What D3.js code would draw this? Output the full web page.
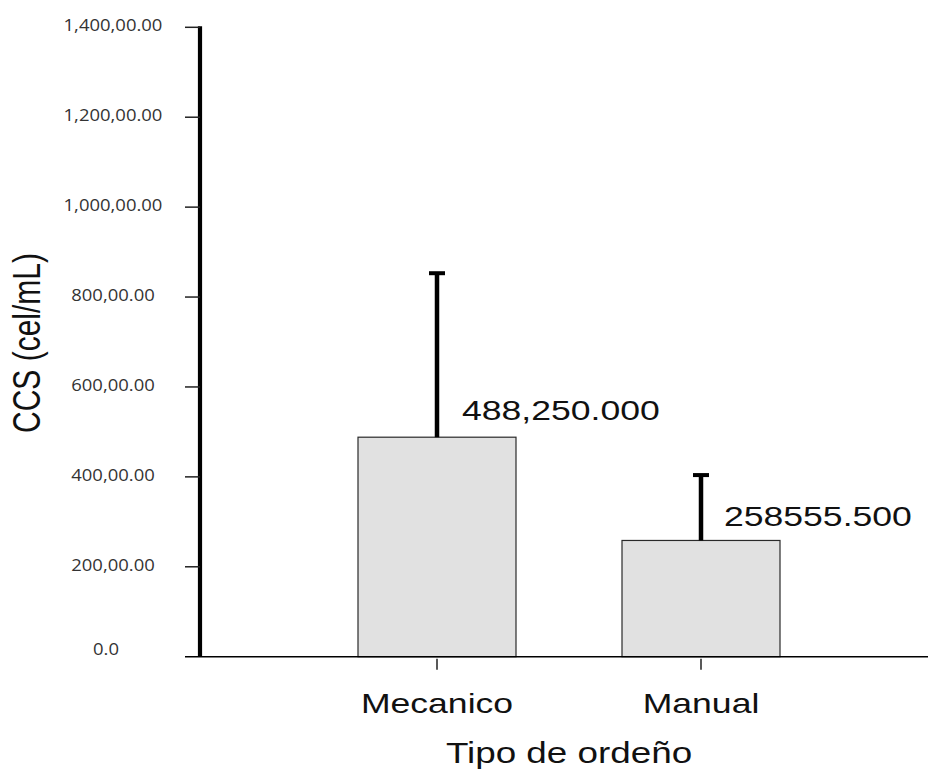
<!DOCTYPE html>
<html>
<head>
<meta charset="utf-8">
<script src="https://cdn.jsdelivr.net/npm/d3@7"></script>
<style>
  html, body { margin: 0; padding: 0; background: #ffffff; }
  svg { display: block; }
</style>
</head>
<body>
<svg id="chart" width="928" height="771"></svg>
<script>
// ---- data ----
const categories = ["Mecanico", "Manual"];
const means = [488250.0, 258555.5];
const errors = [364750, 145444];           // upper error-bar length (cel/mL)
const valueLabels = ["488,250.000", "258555.500"];
const yTicks = [0, 200000, 400000, 600000, 800000, 1000000, 1200000, 1400000];
const yTickLabels = ["0.0", "200,00.00", "400,00.00", "600,00.00", "800,00.00", "1,000,00.00", "1,200,00.00", "1,400,00.00"];
const xTitle = "Tipo de ordeño";
const yTitle = "CCS (cel/mL)";

// ---- layout ----
const svg = d3.select("#chart");
const SX = 1.27; // horizontal stretch of the original picture's text

const y = d3.scaleLinear().domain([0, 1400000]).range([656.7, 27.3]);
const x = d3.scalePoint().domain(categories).range([437, 701]).padding(0);
const barW = 158;
const cx = d => x(d);

// bars
svg.selectAll("rect.bar").data(categories).join("rect")
  .attr("class", "bar")
  .attr("x", d => cx(d) - barW / 2)
  .attr("width", barW)
  .attr("y", (d, i) => y(means[i]))
  .attr("height", (d, i) => y(0) - y(means[i]))
  .attr("fill", "#e1e1e1")
  .attr("stroke", "#2a2a2a")
  .attr("stroke-width", 1.2);

// error bars
svg.selectAll("line.err").data(categories).join("line")
  .attr("x1", cx).attr("x2", cx)
  .attr("y1", (d, i) => y(means[i]))
  .attr("y2", (d, i) => y(means[i] + errors[i]))
  .attr("stroke", "#000").attr("stroke-width", 4.5);
svg.selectAll("line.cap").data(categories).join("line")
  .attr("x1", d => cx(d) - 8).attr("x2", d => cx(d) + 8)
  .attr("y1", (d, i) => y(means[i] + errors[i]))
  .attr("y2", (d, i) => y(means[i] + errors[i]))
  .attr("stroke", "#000").attr("stroke-width", 4);

// value labels
svg.selectAll("text.val").data(categories).join("text")
  .attr("transform", (d, i) => `translate(${cx(d) + (i === 0 ? 25 : 23)},${y(means[i]) - (i === 0 ? 17 : 14)}) scale(${SX},1)`)
  .attr("font-family", "'Liberation Sans', Arial, sans-serif")
  .attr("font-size", 28)
  .attr("fill", "#111")
  .text((d, i) => valueLabels[i]);

// x axis baseline
svg.append("line")
  .attr("x1", 185).attr("x2", 928)
  .attr("y1", y(0)).attr("y2", y(0))
  .attr("stroke", "#000").attr("stroke-width", 1.6);

// x ticks
svg.selectAll("line.xt").data(categories).join("line")
  .attr("x1", cx).attr("x2", cx)
  .attr("y1", y(0) + 2).attr("y2", y(0) + 13)
  .attr("stroke", "#222").attr("stroke-width", 1.5);

// x tick labels
svg.selectAll("text.xl").data(categories).join("text")
  .attr("transform", d => `translate(${cx(d)},713) scale(${SX},1)`)
  .attr("text-anchor", "middle")
  .attr("font-family", "'Liberation Sans', Arial, sans-serif")
  .attr("font-size", 28)
  .attr("fill", "#111")
  .text(d => d);

// x title
svg.append("text")
  .attr("transform", `translate(569,763) scale(${SX},1)`)
  .attr("text-anchor", "middle")
  .attr("font-family", "'Liberation Sans', Arial, sans-serif")
  .attr("font-size", 29)
  .attr("fill", "#111")
  .text(xTitle);

// y axis line (thick)
svg.append("line")
  .attr("x1", 200).attr("x2", 200)
  .attr("y1", y(1400000) - 1).attr("y2", y(0))
  .attr("stroke", "#000").attr("stroke-width", 4.2);

// y ticks
svg.selectAll("line.yt").data(yTicks).join("line")
  .attr("x1", 185).attr("x2", 200)
  .attr("y1", d => y(d)).attr("y2", d => y(d))
  .attr("stroke", "#222").attr("stroke-width", 1.5)
  .attr("opacity", d => d === 0 ? 0 : 1);

// y tick labels
svg.selectAll("text.yl").data(yTicks).join("text")
  .attr("transform", (d, i) => `translate(${i === 0 ? 106 : 113},${y(d) + (i === 0 ? -2 : 4)}) scale(1.12,1)`)
  .attr("text-anchor", "middle")
  .attr("font-family", "'Open Sans', sans-serif")
  .attr("font-size", 16.5)
  .attr("fill", "#333")
  .text((d, i) => yTickLabels[i]);

// y title
svg.append("text")
  .attr("transform", `translate(40,343) scale(${SX},1) rotate(-90)`)
  .attr("text-anchor", "middle")
  .attr("font-family", "'Liberation Sans', Arial, sans-serif")
  .attr("font-size", 30)
  .attr("fill", "#111")
  .text(yTitle);
</script>
</body>
</html>
